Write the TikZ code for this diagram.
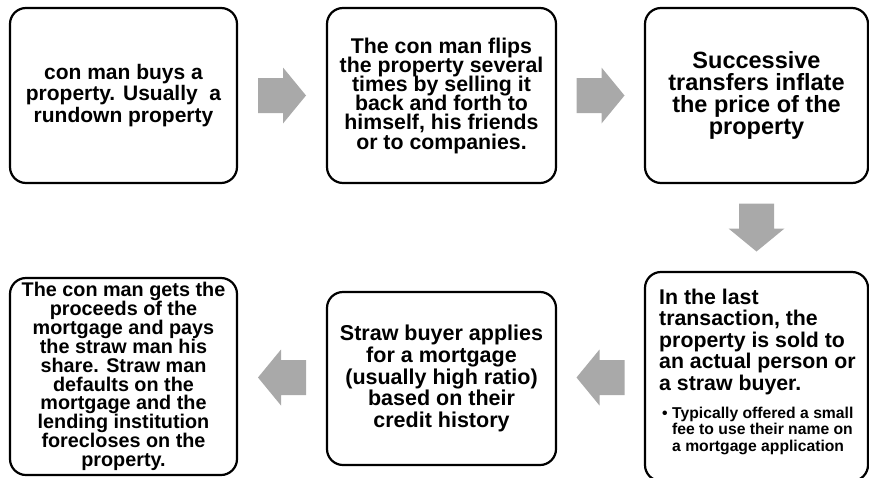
\documentclass[tikz,border=0pt]{standalone}
\usepackage{fontspec}
\setmainfont{Liberation Sans}
\usetikzlibrary{calc}
\definecolor{arrowgray}{HTML}{A9A9A9}
\tikzset{
  stepbox/.style={draw=black, line width=2.2pt, rounded corners=16pt, fill=white,
    inner sep=0pt, align=center},
  fs/.style 2 args={font={\bfseries\fontsize{#1}{#2}\selectfont\lineskiplimit=-30pt}},
  blockarrow/.pic={\fill[arrowgray] (-24,-17.5) -- (1,-17.5) -- (1,-28) -- (24,0)
    -- (1,28) -- (1,17.5) -- (-24,17.5) -- cycle;}
}
\begin{document}
\begin{tikzpicture}[x=1pt, y=-1pt]
\useasboundingbox (0,0) rectangle (869,477);
\clip (0,0) rectangle (869,477);

% top row
\node[stepbox, fs={21}{21.5}, minimum width=227pt, minimum height=175pt] (b1) at (123.5,95.5)
  {con man buys a\\ property. Usually\ \ a\\ rundown property};
\node[stepbox, fs={21.3}{19.2}, minimum width=229pt, minimum height=175pt] (b2) at (441.5,95.5)
  {The con man flips\\ the property several\\ times by selling it\\ back and forth to\\ himself, his friends\\ or to companies.};
\node[stepbox, fs={23.5}{21.8}, minimum width=223pt, minimum height=175pt] (b3) at (756.5,95.5)
  {Successive\\ transfers inflate\\ the price of the\\ property};

% bottom row
\node[stepbox, minimum width=223pt, minimum height=209pt] (b5) at (756.5,376.5) {};
\node[stepbox, fs={21.5}{21.7}, minimum width=229pt, minimum height=173pt] (b4) at (441.5,378.5)
  {Straw buyer applies\\ for a mortgage\\ (usually high ratio)\\ based on their\\ credit history};
\node[stepbox, fs={19.8}{18.9}, minimum width=227pt, minimum height=197pt] (b6) at (123.5,376.5)
  {The con man gets the\\ proceeds of the\\ mortgage and pays\\ the straw man his\\ share. Straw man\\ defaults on the\\ mortgage and the\\ lending institution\\ forecloses on the\\ property.};

% text of the last-transaction step
\node[anchor=north west, inner sep=0pt, align=left, fs={21.3}{21.5}] (b5main) at (659,288.5)
  {In the last\\ transaction, the\\ property is sold to\\ an actual person or\\ a straw buyer.};
\node[anchor=north west, inner sep=0pt, align=left, fs={15.7}{16.7}] (b5sub) at (672,406.5)
  {Typically offered a small\\ fee to use their name on\\ a mortgage application};
\node[anchor=base west, inner sep=0pt, fs={15.7}{16.7}] (b5dot) at (662,418) {•};

% block arrows between the steps
\coordinate (a12) at ($(b1.east)!0.5!(b2.west)$);
\coordinate (a23) at ($(b2.east)!0.5!(b3.west)$);
\coordinate (a35) at ($(b3.south)!0.5!(b5.north)$);
\coordinate (a54) at ($(b5.west)!0.5!(b4.east)$);
\coordinate (a46) at ($(b4.west)!0.5!(b6.east)$);
\pic at (a12) {blockarrow};
\pic at (a23) {blockarrow};
\pic[rotate=-90] at (a35) {blockarrow};
\pic[rotate=180] at (a54) {blockarrow};
\pic[rotate=180] at (a46) {blockarrow};
\end{tikzpicture}
\end{document}
